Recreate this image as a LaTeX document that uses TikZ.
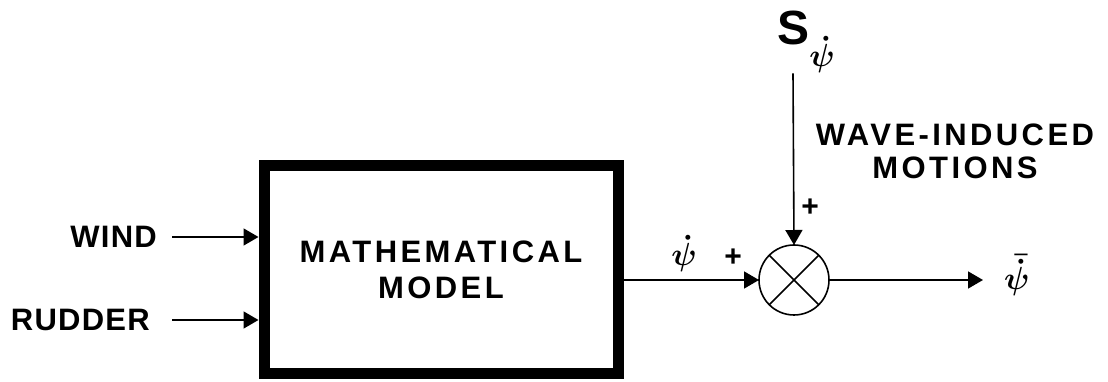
\documentclass[tikz,border=0pt]{standalone}
\usepackage{amsmath}
\usepackage{fontspec}
\setmainfont{Liberation Sans}
\newfontfamily\lblfont[LetterSpace=4]{Liberation Sans}
\newfontfamily\widefont[LetterSpace=11]{Liberation Sans}
\usetikzlibrary{arrows.meta,positioning}
\newcommand{\psirate}{\scalebox{3.2}{$\boldsymbol{\dot\psi}$}}

\begin{document}
\begin{tikzpicture}[
  x=1pt, y=1pt,
  lbl/.style={font=\lblfont\bfseries\fontsize{31}{36}\selectfont,
    inner sep=0pt, align=center},
  model/.style={draw, line width=11pt, minimum width=354pt,
    minimum height=208pt, inner sep=0pt, align=center,
    font=\widefont\bfseries\fontsize{31}{36}\selectfont},
  sym/.style={inner sep=0pt},
  sign/.style={font=\bfseries\fontsize{30}{32}\selectfont, inner sep=0pt},
  junction/.style={draw, circle, line width=1.6pt, minimum size=70pt,
    inner sep=0pt, outer sep=0pt},
  arr/.style={-{Triangle[length=15pt,width=17pt]}, line width=1.6pt}
]
\useasboundingbox (0,0) rectangle (1108,382);

\node[model] (box) at (441,112) {MATHEMATICAL\\MODEL};
\node[lbl, anchor=east] (wind) at (157,145) {WIND};
\node[lbl, anchor=east] (rudder) at (150,62) {RUDDER};
\node[junction] (sum) at (794,102) {};
\draw[line width=1.6pt] (sum.north east) -- (sum.south west)
  (sum.north west) -- (sum.south east);

\node[lbl, font=\bfseries\fontsize{48}{50}\selectfont] (src) at (793,354) {S};
\node[sym] (srcsub) at (822,327) {\psirate};
\node[lbl, font=\widefont\bfseries\fontsize{31}{33}\selectfont] (wave) at (955,231)
  {WAVE-INDUCED\\MOTIONS};

\node[sym] (psi) at (684,128) {\psirate};
\node[sign] (plusl) at (733,124) {+};
\node[sign] (plust) at (810,174) {+};
\node[sym, anchor=west, inner xsep=21pt] (outlbl) at (983,107)
  {\scalebox{3.2}{$\boldsymbol{\bar{\dot\psi}}$}};

\draw[arr] ([xshift=15pt]wind.east) -- (wind.east -| box.west);
\draw[arr] ([xshift=22pt]rudder.east) -- (rudder.east -| box.west);
\draw[arr] (sum.west -| box.east) -- (sum.west);
\draw[arr] (src.south |- srcsub.south) -- (sum.north);
\draw[arr] (sum.east) -- (outlbl.west |- sum.east);
\end{tikzpicture}
\end{document}
